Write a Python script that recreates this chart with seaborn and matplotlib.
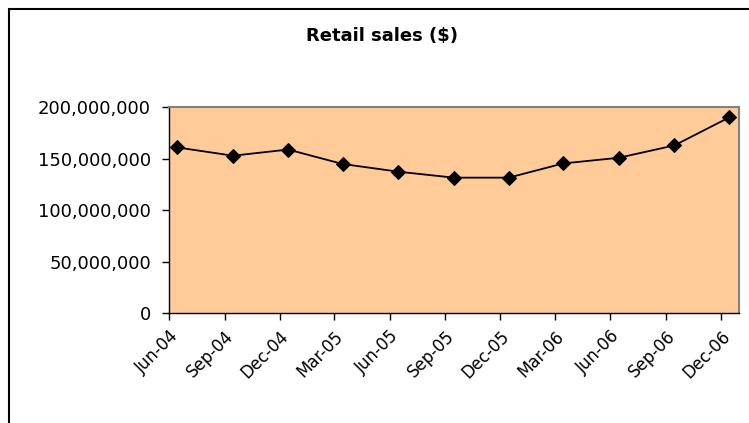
import numpy as np
import pandas as pd
import matplotlib
matplotlib.use("Agg")
import matplotlib.pyplot as plt
import matplotlib.dates as mdates
from matplotlib.patches import Rectangle
from matplotlib.ticker import FuncFormatter, MultipleLocator
import seaborn as sns

# Data
dates = ["2004-06-15", "2004-09-15", "2004-12-15", "2005-03-15", "2005-06-15",
         "2005-09-15", "2005-12-15", "2006-03-15", "2006-06-15", "2006-09-15",
         "2006-12-15"]
sales = [161_000_000, 153_000_000, 159_000_000, 145_000_000, 137_500_000,
         131_700_000, 131_700_000, 145_500_000, 151_000_000, 163_000_000,
         190_300_000]
tick_dates = ["2004-06-01", "2004-09-01", "2004-12-01", "2005-03-01", "2005-06-01",
              "2005-09-01", "2005-12-01", "2006-03-01", "2006-06-01", "2006-09-01",
              "2006-12-01"]
title = "Retail sales ($)"

df = pd.DataFrame({"date": pd.to_datetime(dates), "sales": sales})

sns.set_style("white")
plt.rcParams["font.family"] = ["DejaVu Sans"]

W, H = 749, 423
fig = plt.figure(figsize=(W / 100, H / 100), dpi=100)
ax = fig.add_axes([169 / W, 1 - 313.3 / H, (738.5 - 169) / W, (313.3 - 107.3) / H])
ax.set_facecolor("#FFCC99")

sns.lineplot(data=df, x="date", y="sales", ax=ax, color="black", linewidth=1.3,
             marker="D", markersize=7, markeredgecolor="black", markerfacecolor="black")

ax.set_xlim(pd.Timestamp("2004-06-01"), pd.Timestamp("2006-12-30"))
ax.set_ylim(0, 200_000_000)
ax.yaxis.set_major_locator(MultipleLocator(50_000_000))
ax.yaxis.set_major_formatter(FuncFormatter(lambda v, p: f"{int(v):,}"))
ax.set_xticks(pd.to_datetime(tick_dates))
ax.xaxis.set_major_formatter(mdates.DateFormatter("%b-%y"))
ax.set_xlabel("")
ax.set_ylabel("")

ax.tick_params(axis="both", direction="out", length=5, width=1, color="black",
               labelcolor="black", left=True, bottom=True)
ax.tick_params(axis="y", labelsize=13, pad=8)
ax.tick_params(axis="x", labelsize=12, pad=5)
for lab in ax.get_xticklabels():
    lab.set_rotation(45)
    lab.set_ha("right")
    lab.set_rotation_mode("anchor")

for side in ("left", "bottom"):
    ax.spines[side].set_color("black")
    ax.spines[side].set_linewidth(1)
for side in ("top", "right"):
    ax.spines[side].set_visible(True)
    ax.spines[side].set_color("#808080")
    ax.spines[side].set_linewidth(1.5)

fig.text(381.5 / W, 1 - 36 / H, title, ha="center", va="center",
         fontsize=13, fontweight="bold", color="black")

# Chart-area border (extends past right and bottom edges)
fig.patches.append(Rectangle((8.5 / W, -0.1), 1.2, (H - 9.5) / H + 0.1,
                             transform=fig.transFigure, fill=False,
                             edgecolor="black", linewidth=1.5))

fig.savefig("out.png", dpi=100)
